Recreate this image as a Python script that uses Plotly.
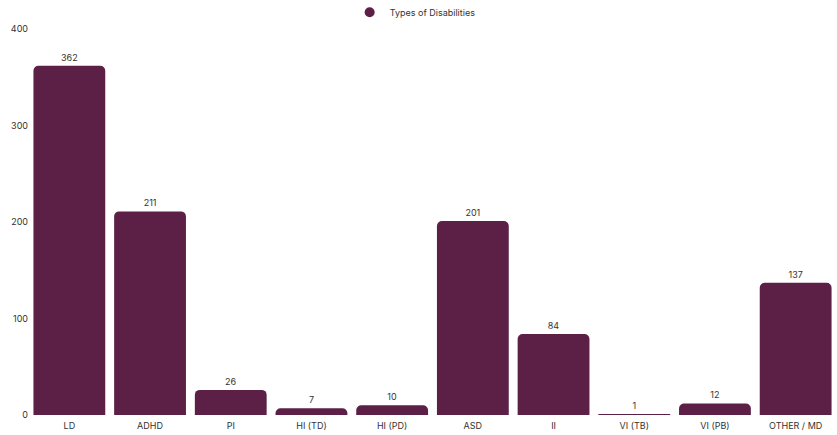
import plotly.graph_objects as go

categories = ["LD", "ADHD", "PI", "HI (TD)", "HI (PD)", "ASD", "II", "VI (TB)", "VI (PB)", "OTHER / MD"]
values = [362, 211, 26, 7, 10, 201, 84, 1, 12, 137]
series_name = "Types of Disabilities"
y_ticks = [0, 100, 200, 300, 400]

color = "#5c2046"
font_family = "Inter, Lato, sans-serif"

fig = go.Figure()
fig.add_trace(go.Bar(
    x=categories, y=values, name=series_name,
    marker=dict(color=color, line=dict(width=0)),
    text=[str(v) for v in values], textposition="outside",
    textfont=dict(size=9, color="#333333", family=font_family),
    cliponaxis=False, showlegend=False,
))
fig.add_trace(go.Scatter(
    x=[None], y=[None], mode="markers", name=series_name,
    marker=dict(symbol="circle", size=10, color=color),
))

fig.update_layout(
    width=837, height=435,
    margin=dict(l=29, r=1, t=29, b=20, autoexpand=False),
    paper_bgcolor="white", plot_bgcolor="white",
    bargap=0.11,
    barcornerradius=5,
    font=dict(family=font_family, size=9, color="#333333"),
    legend=dict(orientation="h", x=0.496, xanchor="center", y=0.972, yanchor="middle",
                xref="container", yref="container",
                font=dict(size=9, color="#333333", family=font_family),
                itemwidth=30),
    xaxis=dict(showgrid=False, showline=False, ticks="", tickfont=dict(size=9), zeroline=False,
               automargin=False, ticklabelstandoff=4),
    yaxis=dict(range=[0, 400], tickvals=y_ticks, showgrid=False, showline=False,
               zeroline=False, ticks="", tickfont=dict(size=9), automargin=False),
)

fig.write_html("out.html",
               config={"displayModeBar": False},
               post_script="document.body.style.margin='0';document.body.style.overflow='hidden';")
